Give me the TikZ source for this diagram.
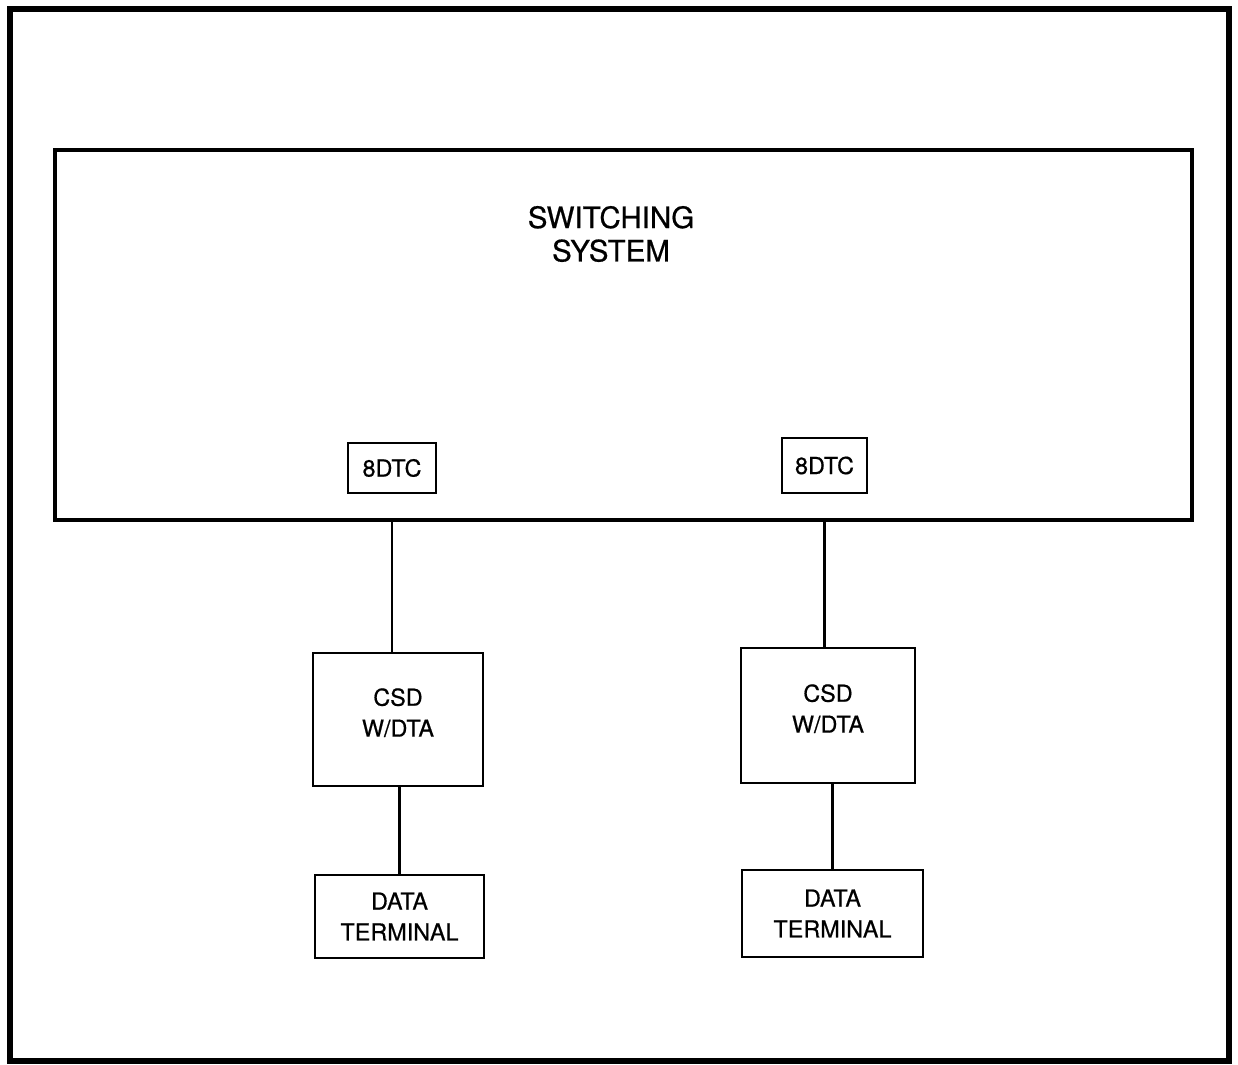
\documentclass[tikz,border=0pt]{standalone}
\usepackage{fontspec}
\setmainfont{TeX Gyre Heros}
\newfontfamily\diagfont{TeX Gyre Heros}[FakeBold=0.6]
\usepackage{tikz}
\usetikzlibrary{positioning,calc}

\begin{document}
\begin{tikzpicture}[x=0.02cm, y=-0.02cm,
    unit/.style={draw, line width=1.6pt, align=center, inner sep=0pt,
        font=\diagfont\fontsize{13.3}{17.6}\selectfont},
    link/.style={line width=1.2pt}]
    \useasboundingbox (0, 0) rectangle (1238, 1065);

    % Frame
    \draw[line width=3pt] (10, 9) rectangle (1229, 1061);

    % Switching system
    \node[draw, line width=2.4pt, minimum width=22.74cm, minimum height=7.4cm,
        inner sep=0pt] (sys) at (623.5, 335) {};
    \node[align=center, font=\diagfont\fontsize{16.8}{19}\selectfont] (syslabel)
        at (611, 234) {SWITCHING\\SYSTEM};

    % 8DTC ports
    \node[unit, minimum width=1.76cm, minimum height=1.0cm] (dtcL) at (392, 468) {8DTC};
    \node[unit, minimum width=1.7cm, minimum height=1.1cm] (dtcR) at (824.5, 465.5) {8DTC};

    % Left branch
    \node[unit, minimum width=3.4cm, minimum height=2.66cm] (csdL) at (398, 719.5)
        {CSD\\W/DTA\\[-9.6pt]};
    \node[unit, minimum width=3.38cm, minimum height=1.66cm] (termL) at (399.5, 916.5)
        {DATA\\TERMINAL};

    % Right branch
    \node[unit, minimum width=3.48cm, minimum height=2.7cm] (csdR) at (828, 715.5)
        {CSD\\W/DTA\\[-9.6pt]};
    \node[unit, minimum width=3.62cm, minimum height=1.74cm] (termR) at (832.5, 913.5)
        {DATA\\TERMINAL};

    % Lines
    \draw[link] (dtcL |- sys.south) -- (dtcL |- csdL.north);
    \draw[link] (csdL.south -| termL) -- (termL.north);
    \draw[link] (dtcR |- sys.south) -- (dtcR |- csdR.north);
    \draw[link] (csdR.south -| termR) -- (termR.north);
\end{tikzpicture}
\end{document}
